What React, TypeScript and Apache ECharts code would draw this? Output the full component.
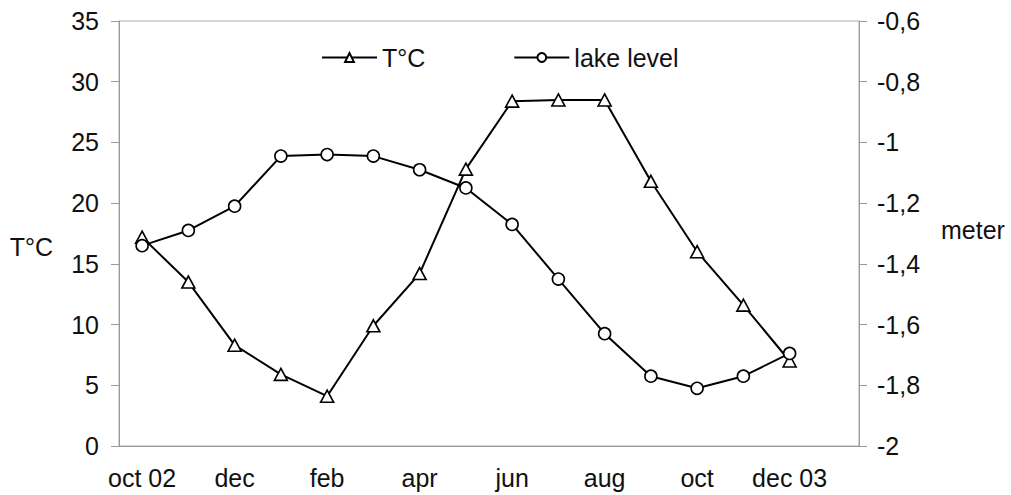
import React, { useEffect, useRef } from "react";
import * as echarts from "echarts";

const months = ["oct 02", "nov", "dec", "jan", "feb", "mar", "apr", "may", "jun", "jul", "aug", "sep", "oct", "nov", "dec 03", "jan 04"];
const temperature = [17.2, 13.5, 8.3, 5.9, 4.1, 9.9, 14.2, 22.8, 28.4, 28.5, 28.5, 21.8, 16.0, 11.6, 7.0];
const lakeLevel = [-1.34, -1.29, -1.21, -1.045, -1.04, -1.045, -1.09, -1.15, -1.27, -1.45, -1.63, -1.77, -1.81, -1.77, -1.695];
const seriesNames = ["T°C", "lake level"];
const leftName = "T°C";
const rightName = "meter";

const FONT = "'Liberation Sans', Arial, sans-serif";
const TXT = "#111";
const AXC = "#9a9a9a";
const FS = 25;

export default function App() {
  const ref = useRef<HTMLDivElement>(null);
  useEffect(() => {
    if (!ref.current) return;
    const chart = echarts.init(ref.current, null, { renderer: "svg" });
    chart.setOption({
      animation: false,
      backgroundColor: "#fff",
      textStyle: { fontFamily: FONT },
      grid: { left: 119, right: 152, top: 21, bottom: 49, show: true, borderColor: "#aaa", borderWidth: 1 },
      legend: {
        data: seriesNames,
        left: 316,
        top: 40,
        itemWidth: 55,
        itemHeight: 11,
        itemGap: 88,
        textStyle: { fontSize: FS, color: TXT, fontFamily: FONT },
      },
      xAxis: {
        type: "category",
        data: months,
        boundaryGap: true,
        axisLine: { lineStyle: { color: AXC, width: 1 } },
        axisTick: { interval: 1, length: 8, lineStyle: { color: AXC } },
        axisLabel: { interval: 1, fontSize: FS, color: TXT, margin: 19, fontFamily: FONT },
        splitLine: { show: false },
      },
      yAxis: [
        {
          type: "value",
          min: 0,
          max: 35,
          interval: 5,
          axisLine: { show: true, lineStyle: { color: AXC } },
          axisTick: { show: true, length: 8, lineStyle: { color: AXC } },
          axisLabel: { fontSize: FS, color: TXT, margin: 20, fontFamily: FONT },
          splitLine: { show: false },
        },
        {
          type: "value",
          min: -2,
          max: -0.6,
          interval: 0.2,
          position: "right",
          axisLine: { show: true, lineStyle: { color: AXC } },
          axisTick: { show: true, length: 8, lineStyle: { color: AXC } },
          axisLabel: {
            fontSize: FS,
            color: TXT,
            margin: 18,
            fontFamily: FONT,
            formatter: (v: number) => String(Math.round(v * 10) / 10).replace(".", ","),
          },
          splitLine: { show: false },
        },
      ],
      graphic: [
        { type: "text", right: 1011 - 53, top: 234, style: { text: leftName, fontSize: FS, fill: TXT, fontFamily: FONT } },
        { type: "text", left: 941, top: 217, style: { text: rightName, fontSize: FS, fill: TXT, fontFamily: FONT } },
      ],
      series: [
        {
          name: seriesNames[0],
          type: "line",
          yAxisIndex: 0,
          data: temperature,
          symbol: "triangle",
          symbolSize: [13, 12],
          lineStyle: { color: "#000", width: 2 },
          itemStyle: { color: "#fff", borderColor: "#000", borderWidth: 1.6 },
        },
        {
          name: seriesNames[1],
          type: "line",
          yAxisIndex: 1,
          data: lakeLevel,
          symbol: "circle",
          symbolSize: 12,
          lineStyle: { color: "#000", width: 2 },
          itemStyle: { color: "#fff", borderColor: "#000", borderWidth: 1.6 },
        },
      ],
    });
    return () => chart.dispose();
  }, []);
  return <div ref={ref} style={{ width: 1011, height: 495, position: "fixed", left: 0, top: 0 }} />;
}
